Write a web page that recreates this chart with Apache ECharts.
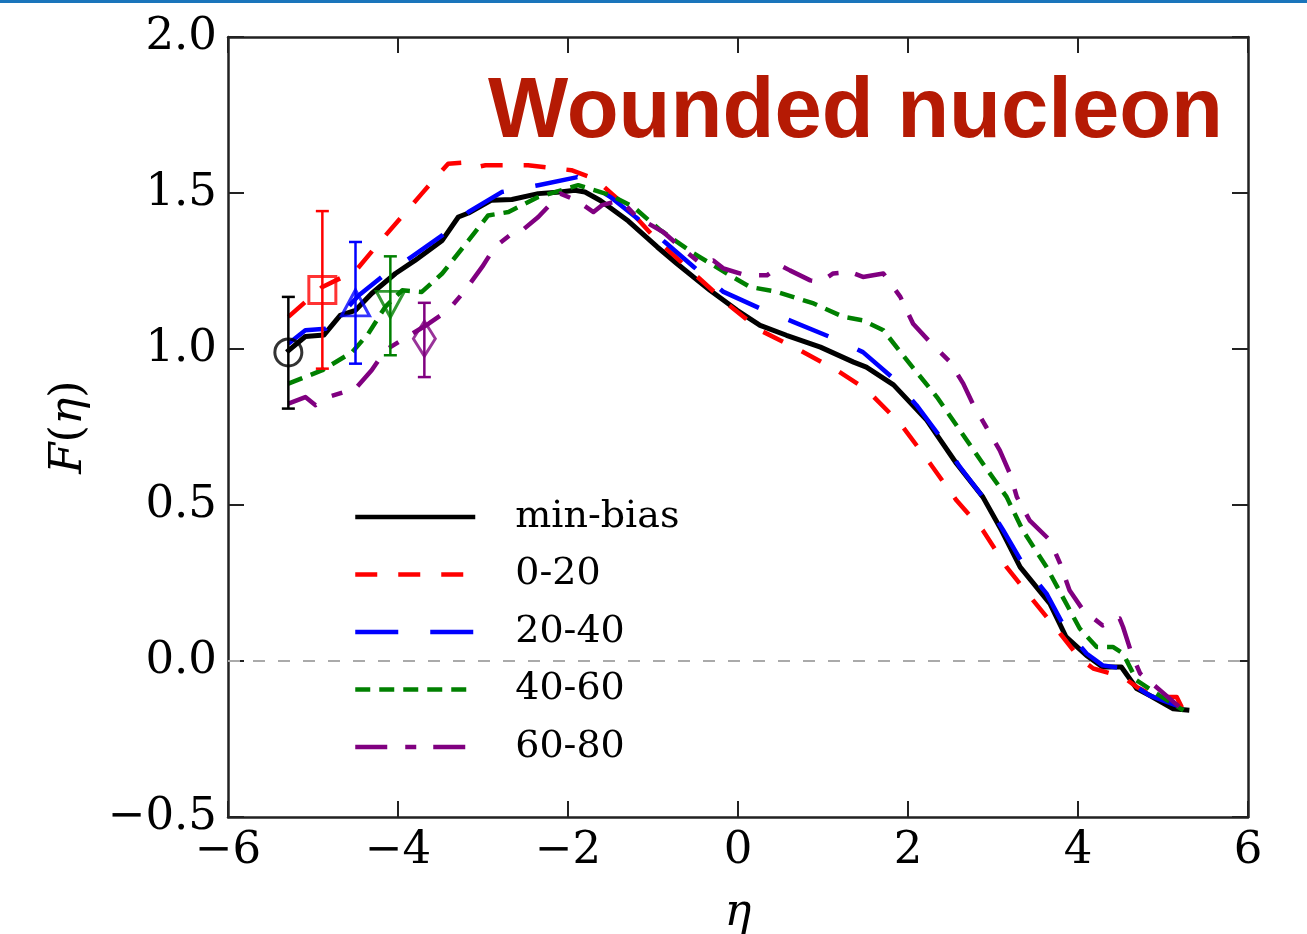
<!DOCTYPE html>
<html>
<head>
<meta charset="utf-8">
<script src="https://cdn.jsdelivr.net/npm/echarts@6/dist/echarts.min.js"></script>
<style>
html,body{margin:0;padding:0;background:#fff;}
#chart{width:1307px;height:934px;}
</style>
</head>
<body>
<div id="chart"></div>
<script>
// ---- data (η, F(η)) ----
const seriesNames = ['min-bias', '0-20', '20-40', '40-60', '60-80'];

const minBias = [[-5.31,0.99],[-5.09,1.04],[-4.87,1.045],[-4.68,1.108],[-4.50,1.124],[-4.31,1.178],[-4.03,1.242],[-3.80,1.284],[-3.48,1.348],[-3.29,1.423],[-3.17,1.436],[-2.90,1.477],[-2.66,1.479],[-2.35,1.498],[-2.09,1.503],[-1.92,1.509],[-1.80,1.503],[-1.62,1.476],[-1.29,1.41],[-0.95,1.327],[-0.72,1.274],[-0.33,1.188],[-0.01,1.124],[0.26,1.076],[0.57,1.044],[0.97,1.006],[1.36,0.958],[1.51,0.942],[1.83,0.885],[2.22,0.772],[2.57,0.633],[2.88,0.526],[3.10,0.419],[3.32,0.301],[3.67,0.184],[3.86,0.077],[4.10,0.018],[4.29,-0.019],[4.51,-0.019],[4.69,-0.088],[4.84,-0.110],[5.12,-0.153],[5.31,-0.158]];

const c0_20 = [[-5.29,1.103],[-4.89,1.199],[-4.50,1.25],[-4.23,1.338],[-3.72,1.498],[-3.41,1.594],[-3.17,1.599],[-3.07,1.583],[-2.97,1.589],[-2.47,1.589],[-2.11,1.578],[-1.96,1.573],[-1.68,1.545],[-1.31,1.455],[-0.95,1.348],[-0.52,1.242],[-0.13,1.146],[0.26,1.060],[0.73,0.996],[1.16,0.932],[1.51,0.87],[1.91,0.761],[2.26,0.633],[2.57,0.515],[2.88,0.419],[3.16,0.301],[3.47,0.195],[3.79,0.088],[4.02,0.008],[4.18,-0.024],[4.53,-0.051],[4.69,-0.083],[4.92,-0.115],[5.16,-0.115],[5.24,-0.158]];

const c20_40 = [[-5.29,1.017],[-5.09,1.06],[-4.85,1.065],[-4.66,1.113],[-4.46,1.172],[-4.19,1.231],[-3.84,1.295],[-3.48,1.364],[-3.17,1.439],[-2.78,1.503],[-2.35,1.525],[-1.89,1.551],[-1.50,1.487],[-1.11,1.402],[-0.84,1.338],[-0.52,1.263],[-0.17,1.183],[0.26,1.130],[0.65,1.087],[1.08,1.039],[1.47,0.99],[1.81,0.91],[2.10,0.82],[2.38,0.718],[2.61,0.622],[2.88,0.526],[3.12,0.419],[3.35,0.312],[3.63,0.216],[3.84,0.109],[4.10,0.024],[4.29,-0.014],[4.53,-0.024],[4.69,-0.083],[4.84,-0.11],[5.31,-0.158]];

const c40_60 = [[-5.29,0.889],[-4.89,0.932],[-4.54,0.990],[-4.35,1.049],[-4.15,1.135],[-3.95,1.188],[-3.72,1.183],[-3.48,1.242],[-3.17,1.348],[-2.94,1.428],[-2.70,1.439],[-2.35,1.487],[-1.88,1.525],[-1.50,1.493],[-1.23,1.455],[-0.91,1.38],[-0.52,1.306],[-0.13,1.242],[0.14,1.199],[0.46,1.183],[0.89,1.146],[1.24,1.103],[1.47,1.092],[1.71,1.06],[2.02,0.953],[2.34,0.846],[2.61,0.74],[2.88,0.633],[3.16,0.526],[3.35,0.419],[3.63,0.301],[3.84,0.195],[4.02,0.104],[4.22,0.045],[4.41,0.045],[4.53,0.024],[4.69,-0.062],[4.92,-0.104],[5.24,-0.158]];

const c60_80 = [[-5.29,0.825],[-5.09,0.846],[-4.97,0.82],[-4.82,0.846],[-4.50,0.873],[-4.31,0.932],[-4.15,0.996],[-3.64,1.081],[-3.41,1.124],[-3.21,1.188],[-3.01,1.263],[-2.86,1.327],[-2.66,1.37],[-2.54,1.38],[-2.35,1.423],[-2.09,1.498],[-1.89,1.475],[-1.70,1.439],[-1.60,1.461],[-1.38,1.477],[-1.19,1.423],[-0.88,1.375],[-0.68,1.327],[-0.44,1.274],[-0.29,1.284],[-0.17,1.258],[0.10,1.236],[0.34,1.236],[0.50,1.268],[0.61,1.252],[0.85,1.22],[0.97,1.215],[1.12,1.242],[1.32,1.247],[1.47,1.231],[1.71,1.242],[1.91,1.167],[2.06,1.081],[2.26,1.022],[2.49,0.96],[2.65,0.889],[2.77,0.82],[2.92,0.75],[3.08,0.675],[3.20,0.60],[3.28,0.526],[3.43,0.451],[3.67,0.387],[3.79,0.312],[3.90,0.227],[4.06,0.163],[4.29,0.114],[4.49,0.136],[4.53,0.109],[4.63,0.024],[4.73,-0.04],[4.92,-0.083],[5.24,-0.158]];

// data points with error bars (one per class)
const markerEta = [-5.29, -4.89, -4.50, -4.09, -3.69];
const markerF   = [0.989, 1.189, 1.148, 1.143, 1.033];
const markerLo  = [0.809, 0.937, 0.953, 0.980, 0.910];
const markerHi  = [1.167, 1.442, 1.343, 1.297, 1.148];

const zeroLine = [[-6, 0], [6, 0]];

const xTicks = {min: -6, max: 6, interval: 2};
const yTicks = {min: -0.5, max: 2.0, interval: 0.5};

// ---- styles ----
const colors = ['#000000', '#ff0000', '#0000ff', '#008000', '#800080'];
const dashes = ['solid', [22, 21], [43, 32], [15, 9], [32, 18, 11, 17]];
const widths = [5, 4.5, 4.5, 4.5, 4.5];
const markerSym = [
  {symbol: 'circle', size: 27, rotate: 0},
  {symbol: 'rect', size: 27, rotate: 0},
  {symbol: 'triangle', size: [28, 26], rotate: 0},
  {symbol: 'triangle', size: [28, 26], rotate: 180},
  {symbol: 'diamond', size: [22, 35], rotate: 0}
];

const serif = "'DejaVu Serif', serif";
const minus = s => String(s).replace('-', '\u2212');

const curves = [minBias, c0_20, c20_40, c40_60, c60_80];

const chart = echarts.init(document.getElementById('chart'), null, {renderer: 'canvas'});

const axisLineStyle = {color: '#222', width: 2.5};
const tickStyle = {show: true, inside: true, length: 16, lineStyle: {color: '#222', width: 2}};

const series = [];
series.push({
  type: 'line', name: 'zero', data: zeroLine, symbol: 'none', silent: true,
  lineStyle: {color: '#aaaaaa', width: 2, type: [12, 13]}, z: 1
});
curves.forEach((d, i) => {
  series.push({
    type: 'line', name: seriesNames[i], data: d, symbol: 'none', showSymbol: false,
    lineStyle: {color: colors[i], width: widths[i], type: dashes[i], cap: 'butt', join: 'round'},
    itemStyle: {color: colors[i]},
    z: 2 + i
  });
});
// error bars
series.push({
  type: 'custom', name: 'errorbars', silent: true, z: 10,
  data: markerEta.map((e, i) => [e, markerLo[i], markerHi[i], i]),
  renderItem: function (params, api) {
    const e = api.value(0), lo = api.value(1), hi = api.value(2), idx = api.value(3);
    const p1 = api.coord([e, lo]), p2 = api.coord([e, hi]);
    const c = colors[idx], half = 6.5;
    const st = {stroke: c, lineWidth: 2.5};
    return {type: 'group', children: [
      {type: 'line', shape: {x1: p1[0], y1: p1[1], x2: p2[0], y2: p2[1]}, style: st},
      {type: 'line', shape: {x1: p1[0]-half, y1: p1[1], x2: p1[0]+half, y2: p1[1]}, style: st},
      {type: 'line', shape: {x1: p2[0]-half, y1: p2[1], x2: p2[0]+half, y2: p2[1]}, style: st}
    ]};
  }
});
// markers
series.push({
  type: 'scatter', name: 'markers', silent: true, z: 11,
  data: markerEta.map((e, i) => ({
    value: [e, markerF[i]],
    symbol: markerSym[i].symbol,
    symbolSize: markerSym[i].size,
    symbolRotate: markerSym[i].rotate,
    itemStyle: {color: 'rgba(0,0,0,0)', borderColor: colors[i], borderWidth: 3}
  }))
});

const option = {
  animation: false,
  backgroundColor: '#ffffff',
  title: {
    text: 'Wounded nucleon', left: 488, top: 71, padding: 0,
    textStyle: {fontFamily: "'Liberation Sans', Arial, sans-serif", fontWeight: 'bold', fontSize: 85, color: '#b51a04'}
  },
  graphic: [{type: 'rect', left: 0, top: 0, shape: {width: 1307, height: 3}, style: {fill: '#1a75bb'}}],
  grid: {left: 228, right: 59, top: 37, bottom: 117, containLabel: false, outerBoundsMode: 'none'},
  legend: {
    data: seriesNames, orient: 'vertical', left: 353, top: 498, padding: 0,
    itemWidth: 120, itemHeight: 4, itemGap: 19.5,
    itemStyle: {opacity: 0},
    lineStyle: {width: 4.5},
    textStyle: {fontFamily: serif, fontSize: 38, color: '#000', padding: [0, 0, 0, 35]},
    selectedMode: false
  },
  xAxis: [{
    type: 'value', position: 'bottom', ...xTicks,
    axisLine: {show: true, onZero: false, lineStyle: axisLineStyle},
    axisTick: tickStyle, splitLine: {show: false},
    axisLabel: {fontFamily: serif, fontSize: 45, color: '#000', margin: 12, formatter: v => minus(v)},
    name: '\u03b7', nameLocation: 'middle', nameGap: 74,
    nameTextStyle: {fontFamily: serif, fontStyle: 'italic', fontSize: 45, color: '#000'}
  }, {
    type: 'value', position: 'top', ...xTicks,
    axisLine: {show: true, onZero: false, lineStyle: axisLineStyle},
    axisTick: tickStyle, axisLabel: {show: false}, splitLine: {show: false}
  }],
  yAxis: [{
    type: 'value', position: 'left', ...yTicks,
    axisLine: {show: true, onZero: false, lineStyle: axisLineStyle},
    axisTick: tickStyle, splitLine: {show: false},
    axisLabel: {fontFamily: serif, fontSize: 45, color: '#000', margin: 11, formatter: v => minus(v.toFixed(1))},
    name: '{i|F}{r|(}{i|\u03b7}{r|)}', nameLocation: 'middle', nameGap: 136, nameRotate: 90,
    nameTextStyle: {fontFamily: serif, fontSize: 45, color: '#000',
      rich: {i: {fontFamily: serif, fontStyle: 'italic', fontSize: 45, color: '#000'},
             r: {fontFamily: serif, fontSize: 45, color: '#000'}}}
  }, {
    type: 'value', position: 'right', ...yTicks,
    axisLine: {show: true, onZero: false, lineStyle: axisLineStyle},
    axisTick: tickStyle, axisLabel: {show: false}, splitLine: {show: false}
  }],
  series: series
};
chart.setOption(option);
</script>
</body>
</html>
